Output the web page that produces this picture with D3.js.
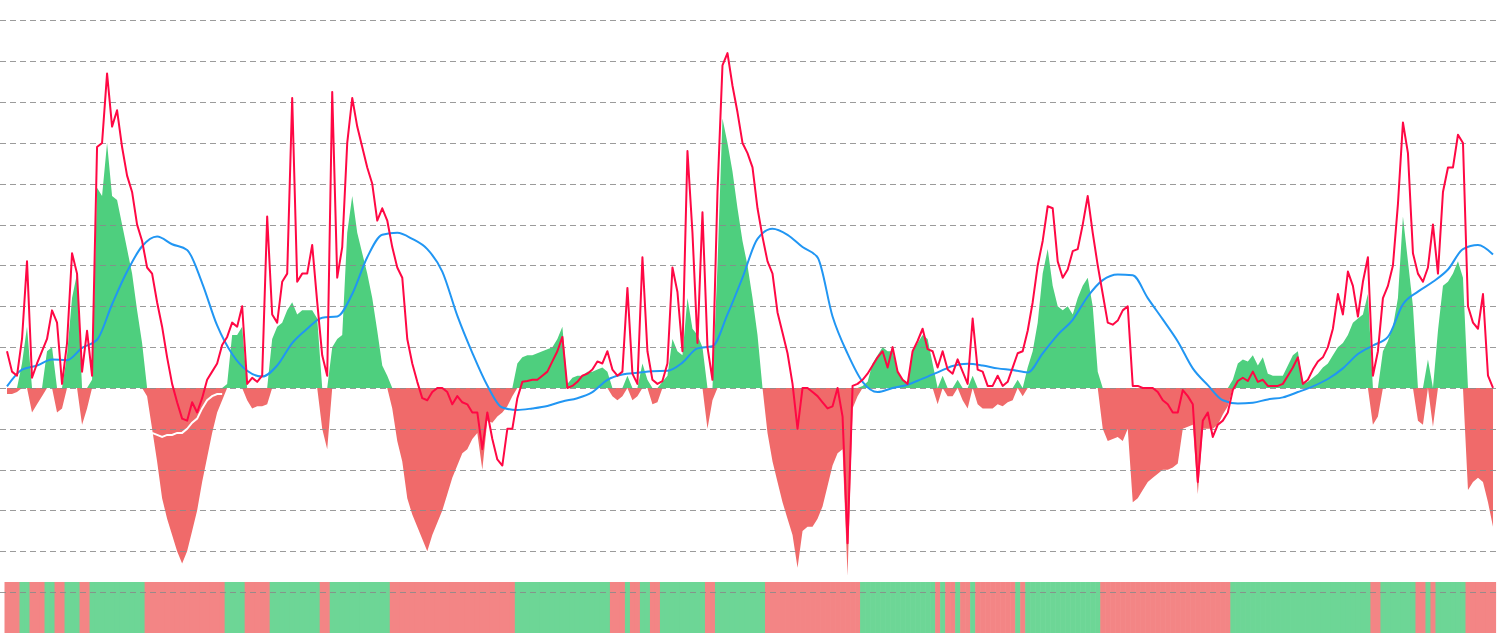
<!DOCTYPE html>
<html>
<head>
<meta charset="utf-8">
<script src="https://cdn.jsdelivr.net/npm/d3@7"></script>
<style>
  html, body { margin: 0; padding: 0; background: #ffffff; }
  svg { display: block; }
</style>
</head>
<body>
<div id="chart"></div>
<script>
// ---------------- DATA ----------------
// main indicator (red line), uniform sampling
const indicator = [
  0.9, 0.4, 0.3, 1.2, 3.1, 0.25, 0.6, 0.9, 1.2, 1.9,
  1.6, 0.1, 1.1, 3.3, 2.8, 0.4, 1.4, 0.3, 5.9, 6.0,
  7.7, 6.4, 6.8, 5.9, 5.2, 4.8, 4.0, 3.6, 2.95, 2.8,
  2.1, 1.5, 0.75, 0.1, -0.35, -0.75, -0.8, -0.35, -0.6, -0.25,
  0.2, 0.4, 0.6, 1.05, 1.25, 1.6, 1.5, 2.0, 0.1, 0.25,
  0.15, 0.3, 4.2, 1.8, 1.6, 2.6, 2.8, 7.1, 2.6, 2.8,
  2.8, 3.5, 2.1, 0.8, 0.3, 7.25, 2.7, 3.45, 6.0, 7.1,
  6.4, 5.9, 5.4, 5.0, 4.1, 4.4, 4.1, 3.45, 2.95, 2.7,
  1.2, 0.6, 0.15, -0.25, -0.3, -0.1, 0, 0, -0.1, -0.4,
  -0.2, -0.35, -0.4, -0.6, -0.6, -1.5, -0.6, -1.25, -1.75, -1.9,
  -1.0, -1.0, -0.25, 0.15, 0.17, 0.2, 0.2, 0.3, 0.4, 0.65,
  0.9, 1.25, 0, 0.05, 0.15, 0.3, 0.35, 0.45, 0.65, 0.6,
  0.9, 0.45, 0.3, 0.4, 2.45, 0.35, 0.1, 3.2, 0.9, 0.2,
  0.1, 0.17, 0.6, 2.95, 2.35, 0.9, 5.8, 3.8, 1.1, 4.3,
  1.0, 0.2, 4.8, 7.9, 8.2, 7.4, 6.75, 6.0, 5.75, 5.4,
  4.4, 3.7, 3.1, 2.8, 1.85, 1.35, 0.85, 0.1, -1.0, 0,
  0, -0.1, -0.2, -0.35, -0.5, -0.45, 0, -0.7, -3.8, 0.05,
  0.1, 0.2, 0.35, 0.55, 0.75, 0.9, 0.5, 1.0, 0.4, 0.2,
  0.1, 0.9, 1.15, 1.45, 0.95, 0.9, 0.5, 0.9, 0.45, 0.35,
  0.7, 0.4, 0.1, 1.7, 0.45, 0.4, 0.05, 0.05, 0.3, 0.05,
  0.15, 0.5, 0.85, 0.9, 1.4, 2.1, 3.0, 3.6, 4.45, 4.4,
  3.1, 2.7, 2.9, 3.35, 3.4, 4.0, 4.7, 3.8, 3.0, 2.3,
  1.6, 1.55, 1.65, 1.9, 2.0, 0.05, 0.05, 0, 0, 0,
  -0.1, -0.3, -0.4, -0.6, -0.6, -0.05, -0.2, -0.4, -2.3, -0.8,
  -0.6, -1.2, -0.9, -0.8, -0.6, -0.05, 0.17, 0.25, 0.17, 0.4,
  0.15, 0.2, 0.05, 0.05, 0.05, 0.1, 0.3, 0.5, 0.75, 0.1,
  0.2, 0.45, 0.65, 0.75, 1.0, 1.45, 2.3, 1.8, 2.85, 2.5,
  1.75, 2.6, 3.2, 0.3, 0.9, 2.2, 2.5, 3.0, 4.5, 6.5,
  5.75, 3.3, 2.8, 2.6, 2.95, 4.0, 2.8, 4.8, 5.4, 5.4,
  6.2, 6.0, 2.0, 1.6, 1.45, 2.3, 0.3, 0
];

// oscillator histogram (green above zero, red below), same sampling
const oscillator = [
  -0.15, -0.15, -0.1, 0.6, 1.5, -0.6, -0.4, -0.2, 0.9, 1.0,
  -0.6, -0.5, 0.8, 2.2, 2.8, -0.9, -0.5, 0.2, 4.9, 4.7,
  6.0, 4.7, 4.6, 4.0, 3.4, 2.8, 1.9, 1.1, -0.2, -1.0,
  -1.8, -2.7, -3.2, -3.6, -4.0, -4.3, -4.0, -3.5, -3.0, -2.3,
  -1.7, -1.1, -0.6, -0.3, 0.1, 1.3, 1.3, 1.5, -0.3, -0.5,
  -0.45, -0.45, -0.4, 1.2, 1.5, 1.6, 1.9, 2.1, 1.8, 1.9,
  1.9, 1.9, 1.7, -1.0, -1.5, 1.0, 1.2, 1.3, 3.8, 4.7,
  3.8, 3.3, 2.8, 2.2, 1.4, 0.55, 0.3, -0.5, -1.3, -1.8,
  -2.7, -3.1, -3.4, -3.7, -4.0, -3.6, -3.3, -3.0, -2.6, -2.2,
  -1.9, -1.6, -1.5, -1.25, -1.1, -2.0, -0.8, -0.85, -0.7, -0.6,
  -0.45, -0.2, 0.6, 0.75, 0.8, 0.8, 0.85, 0.9, 0.95, 1.0,
  1.2, 1.5, 0.1, 0.25, 0.3, 0.3, 0.4, 0.4, 0.45, 0.5,
  0.4, -0.2, -0.3, -0.2, 0.3, -0.3, -0.2, 0.6, 0.2, -0.4,
  -0.35, 0.15, 0.3, 1.2, 0.9, 0.8, 2.2, 1.45, 1.3, 1.0,
  -1.0, -0.3, 3.0, 6.6, 6.0, 5.3, 4.4, 3.6, 3.0, 2.2,
  1.3, 0, -1.1, -1.8, -2.3, -2.8, -3.2, -3.6, -4.4, -3.5,
  -3.4, -3.4, -3.2, -2.9, -2.4, -1.9, -1.6, -1.5, -4.6, -0.5,
  -0.2, 0.05, 0.15, 0.6, 0.8, 1.0, 0.9, 0.9, 0.4, 0.2,
  0.1, 0.9, 1.1, 1.3, 1.2, 0.6, -0.4, 0.3, -0.2, -0.2,
  0.2, -0.3, -0.5, 0.3, -0.4, -0.5, -0.5, -0.5, -0.4, -0.45,
  -0.35, -0.3, 0.2, -0.2, 0.5, 0.9, 1.6, 2.8, 3.4, 2.5,
  2.0, 1.9, 2.0, 1.8, 2.2, 2.5, 2.7, 2.0, 0.4, -1.0,
  -1.3, -1.25, -1.2, -1.3, -1.0, -2.8, -2.7, -2.5, -2.3, -2.2,
  -2.1, -2.0, -2.0, -1.95, -1.85, -1.0, -0.95, -0.9, -2.6, -1.0,
  -1.0, -1.0, -0.9, -0.65, -0.45, 0.2, 0.6, 0.7, 0.65, 0.8,
  0.55, 0.75, 0.35, 0.3, 0.3, 0.3, 0.55, 0.8, 0.9, 0.1,
  0.15, 0.25, 0.35, 0.5, 0.6, 0.8, 1.0, 1.1, 1.3, 1.6,
  1.7, 1.8, 2.3, -0.9, -0.7, 0.9, 1.15, 1.5, 2.2, 4.2,
  3.1, 2.0, -0.8, -0.9, 0.7, -0.95, 1.4, 2.5, 2.6, 2.8,
  3.1, 2.7, -2.5, -2.3, -2.2, -2.3, -2.8, -3.4
];

// smoothed average (blue line), coarser uniform sampling over the same span
const average = [
  0.04, 0.45, 0.55, 0.7, 0.68, 0.98, 1.18, 2.05, 2.85, 3.47,
  3.71, 3.52, 3.38, 2.57, 1.53, 0.83, 0.42, 0.28, 0.55, 1.1,
  1.45, 1.72, 1.75, 2.3, 3.2, 3.75, 3.8, 3.65, 3.4, 2.85,
  1.77, 0.86, 0.06, -0.48, -0.54, -0.5, -0.44, -0.33, -0.25, -0.1,
  0.2, 0.33, 0.37, 0.41, 0.42, 0.62, 0.97, 1.02, 1.8, 2.7,
  3.65, 3.9, 3.75, 3.45, 3.2, 1.75, 0.84, 0.15, -0.1, 0.0,
  0.08, 0.23, 0.38, 0.54, 0.59, 0.55, 0.48, 0.44, 0.38, 0.85,
  1.3, 1.67, 2.24, 2.64, 2.78, 2.76, 2.2, 1.68, 1.14, 0.48,
  0.07, -0.3, -0.38, -0.36, -0.28, -0.23, -0.1, 0.04, 0.22, 0.48,
  0.83, 1.04, 1.25, 2.05, 2.36, 2.6, 2.9, 3.4, 3.5, 3.27
];

// short white trace visible over the first bear-phase histogram
const traceStart = 29;
const trace = [-1.1, -1.15, -1.2, -1.15, -1.15, -1.1, -1.1, -1.0, -0.85, -0.75, -0.5, -0.3, -0.2, -0.15, -0.15];

// gridline levels
const gridLevels = [-5, -4, -3, -2, -1, 0, 1, 2, 3, 4, 5, 6, 7, 8, 9];

// ---------------- CHART ----------------
const W = 1500, H = 633;
const svg = d3.select("#chart").append("svg").attr("width", W).attr("height", H);

const x = d3.scaleLinear().domain([0, indicator.length - 1]).range([7, 1493]);
const xAvg = d3.scaleLinear().domain([0, average.length - 1]).range([7, 1493]);
const y = d3.scaleLinear().domain([-6, 9.5]).range([633, 0]);

const GREEN = "#4ecf7e", RED = "#f06a6a";

// bottom state strip
const stepW = x(1) - x(0);
svg.append("g").selectAll("rect").data(oscillator).join("rect")
  .attr("x", (d, i) => x(i) - stepW / 2)
  .attr("width", stepW + 0.6)
  .attr("y", 582).attr("height", H - 582)
  .attr("fill", d => d >= 0 ? "#6dd696" : "#f38585");

// histogram areas
const posArea = d3.area().x((d, i) => x(i)).y0(y(0)).y1(d => y(Math.max(0, d)));
const negArea = d3.area().x((d, i) => x(i)).y0(y(0)).y1(d => y(Math.min(0, d)));
svg.append("path").datum(oscillator).attr("d", posArea).attr("fill", GREEN);
svg.append("path").datum(oscillator).attr("d", negArea).attr("fill", RED);

// gridlines
svg.append("g").selectAll("line").data(gridLevels).join("line")
  .attr("x1", 0).attr("x2", 1497)
  .attr("y1", d => Math.round(y(d)) + 0.5).attr("y2", d => Math.round(y(d)) + 0.5)
  .attr("stroke", "#8a8a8a").attr("stroke-opacity", 0.85)
  .attr("stroke-width", 1).attr("stroke-dasharray", "6,4");

// white trace
svg.append("path").datum(trace)
  .attr("d", d3.line().x((d, i) => x(traceStart + i)).y(d => y(d)))
  .attr("fill", "none").attr("stroke", "#ffffff").attr("stroke-width", 2);

// smoothed average
svg.append("path").datum(average)
  .attr("d", d3.line().x((d, i) => xAvg(i)).y(d => y(d)).curve(d3.curveMonotoneX))
  .attr("fill", "none").attr("stroke", "#2196f3").attr("stroke-width", 2);

// indicator line
svg.append("path").datum(indicator)
  .attr("d", d3.line().x((d, i) => x(i)).y(d => y(d)))
  .attr("fill", "none").attr("stroke", "#ff0844").attr("stroke-width", 2)
  .attr("stroke-linejoin", "round");
</script>
</body>
</html>
